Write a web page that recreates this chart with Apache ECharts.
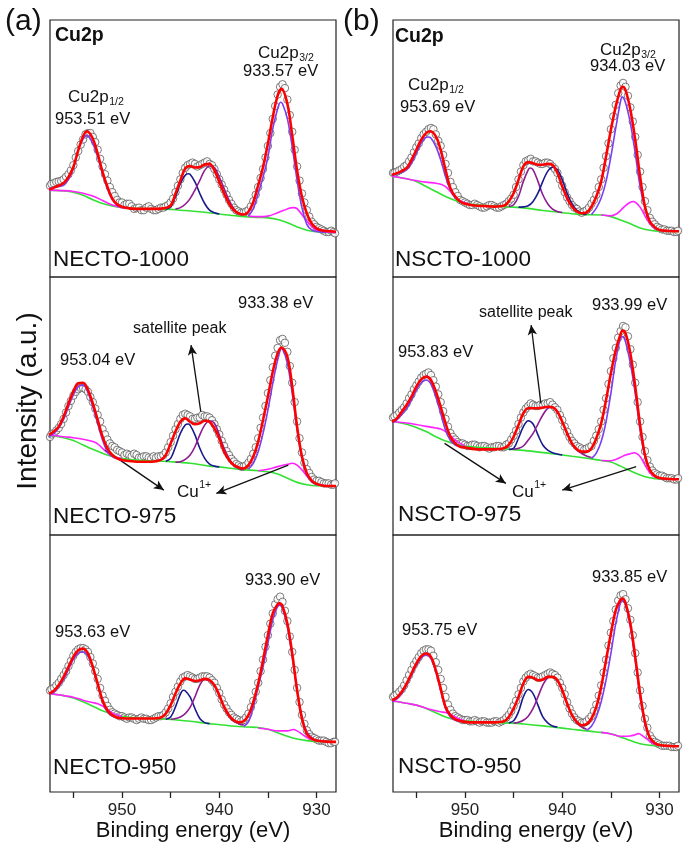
<!DOCTYPE html>
<html><head><meta charset="utf-8">
<script src="https://cdn.jsdelivr.net/npm/echarts@6/dist/echarts.min.js"></script>
<style>html,body{margin:0;padding:0;background:#fff}#c{width:685px;height:849px}</style>
</head><body><div id="c"></div>
<script>
// ---------- DATA (binding energy in eV, intensity in a.u. 0..100 per panel) ----------
const E_GRID = [957.4,957,956.5,956,955.5,955,954.5,954,953.5,953,952.5,952,951.5,951,950.5,950,949.5,949,948.5,948,947.5,947,946.5,946,945.5,945,944.5,944,943.5,943,942.5,942,941.5,941,940.5,940,939.5,939,938.5,938,937.5,937,936.5,936,935.5,935,934.5,934,933.5,933,932.5,932,931.5,931,930.5,930,929.5,929,928.5,928.1];
const E_MID = [957.25,956.75,956.25,955.75,955.25,954.75,954.25,953.75,953.25,952.75,952.25,951.75,951.25,950.75,950.25,949.75,949.25,948.75,948.25,947.75,947.25,946.75,946.25,945.75,945.25,944.75,944.25,943.75,943.25,942.75,942.25,941.75,941.25,940.75,940.25,939.75,939.25,938.75,938.25,937.75,937.25,936.75,936.25,935.75,935.25,934.75,934.25,933.75,933.25,932.75,932.25,931.75,931.25,930.75,930.25,929.75,929.25,928.75,928.25];
const X_TICKS = [955,950,945,940,935,930];
const X_LABELS = [950,940,930];

// Panel (a) NECTO-1000
const aTopData = [35.5,36.5,37.2,38.0,40.0,43.5,49.0,53.5,56.0,54.5,49.5,43.0,37.5,33.0,30.0,29.0,28.5,27.5,26.8,26.0,27.0,26.5,26.0,27.0,27.5,29.0,33.0,38.0,42.5,44.0,44.0,43.5,44.5,44.0,42.0,38.0,34.0,30.0,27.0,25.5,25.0,26.0,29.5,35.0,42.0,51.0,61.5,71.0,75.0,69.0,56.5,43.0,32.5,26.0,21.5,19.5,18.5,17.5,18.0,17.0];
const aTopData2 = [36.2,37.0,37.4,39.0,41.5,46.5,51.5,55.5,56.0,52.5,46.0,40.0,35.0,31.5,29.0,28.0,28.5,26.5,27.0,26.0,27.5,26.0,26.5,27.0,28.0,30.5,35.5,40.5,43.5,44.5,43.0,44.0,45.0,43.5,40.0,36.0,32.0,28.5,26.0,25.0,25.5,27.5,32.0,38.5,46.5,56.0,66.5,74.0,73.5,63.0,49.5,37.5,29.0,23.5,20.5,19.0,18.0,17.5,17.5];
const aTopFit = [[957.5,34.0],[957,34.8],[956,36.6],[955.5,38.9],[955,42.8],[954.5,49.3],[954,54.7],[953.6,56.7],[953,53.8],[952.5,48.0],[952,40.9],[951.5,35.1],[951,30.5],[950.5,28.3],[950,27.3],[949,26.6],[948,26.5],[947,26.5],[946,26.6],[945,27.9],[944.5,32.5],[944,37.6],[943.5,42.2],[943,43.2],[942.5,42.6],[942,42.8],[941.5,43.8],[941,44.0],[940.5,41.5],[940,37.0],[939.5,32.5],[939,28.6],[938.5,26.0],[938,24.7],[937.5,24.3],[937,25.4],[936.5,29.2],[936,35.7],[935.5,42.8],[935,51.9],[934.5,62.2],[934,70.6],[933.6,73.2],[933,67.4],[932.5,55.1],[932,41.5],[931.5,31.2],[931,24.7],[930.5,20.8],[930,18.9],[929.5,18.2],[929,17.9],[928,17.6]];
const aTopGreen = [[957.5,33.8],[956,33.5],[955,33.0],[954,31.8],[953,30.1],[952,28.6],[951,27.6],[950,27.0],[948,26.6],[946,26.5],[944,26.0],[942,25.4],[940,24.5],[938,23.7],[936,23.2],[935,23.0],[934,22.4],[933,21.1],[932,19.5],[931,18.2],[930,17.6],[929,17.3],[928,17.2]];
const aTopMagL = [[957.5,33.8],[956,33.6],[955,33.3],[954,32.6],[953,31.5],[952,29.8],[951,28.0],[950,27.0],[949,26.8]];
const aTopMagR = [[937,23.7],[936,23.5],[935,23.7],[934,25.0],[933,26.5],[932.4,27.0],[932,26.6],[931,21.8],[930,18.2],[929,17.4],[928,17.2]];
const aTopV12 = [[957.5,34.5],[957,34.8],[956,35.7],[955.5,38.0],[955,42.2],[954.5,49.3],[954,53.8],[953.6,55.1],[953,51.9],[952.5,46.7],[952,40.2],[951.5,34.4],[951,30.1],[950.5,27.9],[950,27.0]];
const aTopV32 = [[937,23.7],[936.5,26.6],[936,32.5],[935.5,38.9],[935,46.7],[934.5,57.7],[934,65.5],[933.7,68.0],[933.5,67.4],[933,61.6],[932.5,50.6],[932,37.6],[931.5,27.0],[931,20.5],[930.5,18.3],[930,17.7],[929,17.3]];
const aTopSatL = [[945.5,26.4],[945,27.3],[944.5,31.2],[944,36.4],[943.5,39.6],[943.2,40.2],[943,40.0],[942.5,37.0],[942,32.5],[941.5,28.6],[941,26.0],[940.5,25.0],[940,24.5]];
const aTopSatR = [[944.5,26.5],[944,27.0],[943.5,28.3],[943,30.5],[942.5,33.8],[942,37.6],[941.5,41.5],[941,43.2],[940.5,42.6],[940,38.9],[939.5,34.4],[939,29.9],[938.5,26.6],[938,24.7],[937.5,24.1]];

// Panel (a) NECTO-975
const aMidData = [38.0,39.5,41.5,45.0,50.0,54.0,56.5,57.0,55.5,51.5,46.5,41.0,37.0,34.5,33.0,32.0,31.5,30.5,31.0,30.0,30.5,29.5,30.0,30.5,32.0,36.0,41.0,45.0,47.0,46.0,45.0,45.5,46.0,45.5,43.0,39.0,34.5,31.0,28.5,27.0,26.5,28.0,31.5,37.5,45.5,55.0,65.0,72.5,76.0,71.0,59.0,44.0,32.0,25.5,22.5,21.0,20.5,20.0,19.5,20.0];
const aMidData2 = [39.0,40.5,43.0,47.5,52.0,55.5,57.0,56.5,53.5,49.0,44.0,39.0,35.5,34.0,32.5,31.0,31.0,31.5,30.0,30.5,30.0,30.5,30.5,31.0,34.0,38.5,43.0,46.5,46.5,45.0,45.5,46.5,46.0,44.5,41.0,36.5,32.5,29.5,27.5,26.5,27.0,29.5,34.0,41.5,50.0,60.0,69.5,75.5,74.5,65.5,51.5,37.5,28.0,24.0,21.5,21.0,20.0,20.0,19.5];
const aMidFit = [[957.5,38.8],[957,40.1],[956.5,42.0],[956,45.9],[955.5,51.0],[955,55.6],[954.5,58.8],[954,59.0],[953.5,56.2],[953,51.0],[952.5,44.6],[952,38.1],[951.5,33.6],[951,31.0],[950.5,29.7],[950,29.1],[949,28.6],[948,28.4],[947,28.4],[946,29.1],[945.5,31.0],[945,35.5],[944.5,40.1],[944,43.9],[943.5,45.2],[943,43.9],[942.5,42.9],[942,43.3],[941.5,44.3],[941,43.9],[940.5,41.3],[940,37.5],[939.5,32.3],[939,29.1],[938.5,27.1],[938,26.2],[937.5,25.8],[937,27.1],[936.5,30.4],[936,36.2],[935.5,44.6],[935,53.6],[934.5,63.3],[934,70.4],[933.6,72.7],[933,69.1],[932.5,57.5],[932,42.0],[931.5,30.4],[931,23.9],[930.5,21.1],[930,19.8],[929.5,19.3],[929,19.0],[928,19.0]];
const aMidGreen = [[957.5,38.8],[957,38.5],[956,37.7],[955,36.6],[954,34.9],[953,33.2],[952,31.7],[951,30.4],[950,29.6],[949,29.1],[947,28.8],[945,28.4],[943,27.8],[941,26.7],[940,26.4],[938,25.5],[936,24.9],[935,24.5],[934,23.6],[933,22.0],[932,20.4],[931,19.5],[930,19.1],[928,19.0]];
const aMidMagL = [[957.5,38.8],[957,38.6],[956,38.1],[955,37.7],[954,37.1],[953,36.2],[952.5,35.3],[952,33.6],[951.5,31.9],[951,30.6],[950.5,30.0],[950,29.5]];
const aMidMagR = [[936,24.9],[935,25.5],[934,26.5],[933,27.4],[932.5,27.8],[932,27.1],[931.5,25.2],[931,22.9],[930.5,20.9],[930,19.8],[929.5,19.3],[929,19.0]];
const aMidV12 = [[957.5,38.1],[957,39.4],[956.5,41.5],[956,44.8],[955.5,49.7],[955,54.3],[954.5,57.5],[954,58.1],[953.5,55.2],[953,49.7],[952.5,43.3],[952,36.8],[951.5,32.3],[951,30.4],[950.5,29.6],[950,29.3]];
const aMidV32 = [[937,25.5],[936.5,27.8],[936,32.3],[935.5,39.4],[935,48.4],[934.5,58.8],[934,67.8],[933.6,72.2],[933.5,72.1],[933,66.5],[932.5,54.9],[932,40.7],[931.5,29.7],[931,23.3],[930.5,20.7],[930,19.6],[929,19.1]];
const aMidSatL = [[945.5,28.6],[945,29.7],[944.5,34.2],[944,39.4],[943.5,42.6],[943.2,43.0],[943,42.6],[942.5,38.8],[942,33.6],[941.5,29.7],[941,27.5],[940.5,26.7],[940,26.4]];
const aMidSatR = [[944.5,28.2],[944,28.4],[943.5,29.3],[943,31.0],[942.5,34.2],[942,38.8],[941.5,42.6],[941,44.3],[940.5,43.3],[940,38.8],[939.5,33.6],[939,29.7],[938.5,27.1],[938,25.8],[937.5,25.3]];
const aMidArrows = [[[941.9,47.8],[942.9,73.6]],[[951.7,32.9],[945.7,17.4]],[[932.9,27.1],[940.3,16.1]]];

// Panel (a) NECTO-950
const aBotData = [39.5,40.5,42.5,45.5,49.0,53.0,55.5,56.0,54.5,50.0,44.0,37.5,33.5,31.0,30.0,29.5,28.5,29.0,28.0,29.0,28.5,28.0,29.0,29.5,31.0,34.5,39.0,43.0,45.0,45.0,44.0,44.5,45.0,44.5,42.5,38.5,34.0,31.0,29.0,28.0,28.0,30.5,35.5,42.5,51.5,61.0,69.5,75.0,74.0,66.5,54.5,40.5,30.0,24.0,21.5,20.5,20.0,19.5,19.0,19.5];
const aBotData2 = [40.0,41.5,44.0,47.0,51.0,54.5,56.0,55.5,52.5,47.0,40.5,35.5,32.0,30.5,29.5,29.0,29.0,28.5,28.5,28.5,28.0,28.5,29.5,30.0,32.5,37.0,41.0,44.5,45.5,44.5,44.0,45.0,45.0,43.5,40.5,36.0,32.5,30.0,28.5,27.5,29.0,33.0,39.0,47.0,56.5,65.5,73.0,76.0,70.5,60.5,47.5,35.0,26.5,22.5,21.0,20.0,20.0,19.0,19.5];
const aBotFit = [[957.5,38.3],[957,39.4],[956.5,41.6],[956,44.8],[955.5,48.7],[955,52.6],[954.5,55.2],[954,55.8],[953.5,53.9],[953,48.7],[952.5,42.2],[952,35.7],[951.5,31.8],[951,29.9],[950.5,29.0],[950,28.7],[949,28.6],[948,28.6],[947,28.6],[946,29.0],[945.5,30.5],[945,33.8],[944.5,38.3],[944,42.2],[943.5,44.2],[943,43.8],[942.5,43.2],[942,43.5],[941.5,44.0],[941,43.5],[940.5,41.6],[940,37.7],[939.5,33.1],[939,29.9],[938.5,27.9],[938,27.1],[937.5,27.5],[937,29.9],[936.5,35.1],[936,42.2],[935.5,51.3],[935,61.0],[934.5,69.5],[934,73.1],[933.8,73.4],[933.5,72.3],[933,65.6],[932.5,53.9],[932,39.6],[931.5,28.6],[931,22.7],[930.5,20.8],[930,20.0],[929,19.6],[928,19.5]];
const aBotGreen = [[957.5,38.3],[957,38.1],[956,37.5],[955,36.6],[954,35.1],[953,33.4],[952,31.6],[951,30.3],[950,29.5],[949,29.0],[947,28.6],[945,28.2],[943,27.5],[941,26.6],[939,25.8],[937,25.3],[936,25.1],[935,24.4],[934,23.1],[933,21.7],[932,20.6],[931,20.0],[930,19.7],[928,19.5]];
const aBotMagL = [[957.5,38.3],[957,38.1],[956,37.5],[955,36.9],[954,35.7],[953,34.8],[952.5,34.3],[952,33.4],[951.5,32.1],[951,30.8],[950.5,30.0],[950,29.5]];
const aBotMagR = [[936,24.9],[935,24.4],[934,23.8],[933,23.8],[932.4,24.3],[932,23.8],[931.5,22.5],[931,21.2],[930.5,20.4],[930,19.9],[929,19.6]];
const aBotV12 = [[957.5,38.1],[957,38.8],[956.5,41.0],[956,43.8],[955.5,47.7],[955,51.6],[954.5,53.9],[954,54.5],[953.5,52.9],[953,48.1],[952.5,41.6],[952,35.1],[951.5,31.2],[951,29.6],[950.5,29.1],[950,29.0]];
const aBotV32 = [[937.5,25.6],[937,27.3],[936.5,33.1],[936,40.9],[935.5,48.7],[935,57.8],[934.5,66.9],[934,72.3],[933.8,72.7],[933.5,71.4],[933,64.3],[932.5,52.6],[932,39.6],[931.5,29.2],[931,23.4],[930.5,21.2],[930,20.1],[929,19.6]];
const aBotSatL = [[945.5,28.3],[945,29.2],[944.5,33.1],[944,38.1],[943.7,39.6],[943.5,39.4],[943,37.0],[942.5,32.5],[942,28.6],[941.5,27.0],[941,26.6]];
const aBotSatR = [[945,28.3],[944.5,28.6],[944,29.2],[943.5,30.5],[943,32.9],[942.5,37.0],[942,41.6],[941.5,43.8],[941,43.5],[940.5,41.3],[940,37.4],[939.5,32.9],[939,29.5],[938.5,27.5],[938,26.6],[937.5,26.1]];

// Panel (b) NSCTO-1000
const bTopData = [40.5,41.0,42.0,43.5,46.5,50.5,54.0,56.5,58.0,55.5,51.0,44.0,37.0,33.0,30.0,29.0,28.0,28.5,27.5,27.0,28.0,27.5,27.0,28.0,29.5,32.0,38.0,43.5,45.5,45.0,44.5,44.0,44.5,43.0,40.5,35.5,31.0,28.0,26.5,25.0,26.0,28.5,32.0,38.0,47.0,57.5,67.0,74.5,74.0,66.0,54.5,41.0,29.5,23.0,20.5,19.0,18.5,18.0,17.5,18.0];
const bTopData2 = [40.5,41.5,43.0,45.0,48.5,52.0,55.5,57.5,57.5,53.0,47.5,40.5,35.0,31.5,29.5,28.5,28.0,28.0,27.0,27.5,28.0,27.0,27.5,28.5,30.5,35.0,41.0,45.0,46.0,45.0,44.0,44.5,44.0,42.0,38.0,33.0,29.5,27.0,25.5,25.5,27.0,30.0,35.0,42.5,52.0,62.5,71.5,75.5,70.5,60.5,47.5,35.0,26.0,21.5,19.5,18.5,18.0,18.0,17.5];
const bTopFit = [[957.5,39.8],[957,40.4],[956,42.4],[955.5,45.6],[955,49.5],[954.5,53.4],[954,56.0],[953.6,56.7],[953,54.7],[952.5,49.5],[952,41.7],[951.5,34.6],[951,31.3],[950.5,29.4],[950,28.5],[949,27.8],[948,27.6],[947,27.4],[946,27.7],[945.5,29.4],[945,32.6],[944.5,37.8],[944,43.0],[943.5,44.7],[943,44.3],[942.5,43.7],[942,43.7],[941.5,44.0],[941,43.6],[940.5,40.5],[940,35.2],[939.5,30.7],[939,27.4],[938.5,25.5],[938,24.8],[937.5,25.1],[937,27.4],[936.5,31.3],[936,37.2],[935.5,46.9],[935,57.3],[934.5,66.4],[934,73.2],[933.8,74.0],[933.5,72.7],[933,65.1],[932.5,53.4],[932,39.1],[931.5,27.4],[931,21.6],[930.5,19.4],[930,18.3],[929,17.9],[928,17.8]];
const bTopGreen = [[957.5,39.1],[957,38.9],[956,38.2],[955,37.2],[954,35.2],[953,33.3],[952,31.3],[951,29.8],[950,28.7],[949,28.2],[948,27.8],[946,27.4],[944,26.9],[942,25.9],[940,25.0],[938,24.3],[936,24.1],[935,23.5],[934,22.2],[933,20.7],[932,19.1],[931,18.2],[930,17.8],[928,17.7]];
const bTopMagL = [[957.5,39.1],[957,38.9],[956,38.2],[955,37.5],[954,36.9],[953,36.5],[952.5,36.1],[952,35.2],[951.5,33.3],[951,31.1],[950.5,29.6],[950,28.9],[949.5,28.5]];
const bTopMagR = [[936,24.1],[935,23.8],[934.5,24.4],[934,25.9],[933.5,27.8],[933,29.1],[932.7,29.4],[932.5,29.1],[932,27.2],[931.5,23.8],[931,20.9],[930.5,19.0],[930,18.1],[929,17.7]];
const bTopV12 = [[957.5,39.5],[957,40.1],[956,41.7],[955.5,44.3],[955,48.2],[954.5,52.1],[954,54.4],[953.8,54.5],[953.5,54.1],[953,50.8],[952.5,45.6],[952,39.1],[951.5,33.9],[951,30.7],[950.5,29.4],[950,28.7]];
const bTopV32 = [[937,24.3],[936.5,26.8],[936,30.7],[935.5,37.2],[935,46.9],[934.5,58.0],[934,68.5],[933.85,70.1],[933.5,67.8],[933,59.9],[932.5,48.2],[932,35.2],[931.5,26.8],[931,21.6],[930.5,19.2],[930,18.3],[929,17.8]];
const bTopSatL = [[945.5,27.4],[945,28.1],[944.5,31.3],[944,37.2],[943.5,41.7],[943.3,42.4],[943,41.7],[942.5,37.2],[942,32.0],[941.5,28.5],[941,26.4],[940.5,25.5],[940,25.1]];
const bTopSatR = [[944.5,27.2],[944,27.3],[943.5,27.7],[943,29.4],[942.5,32.6],[942,37.2],[941.5,41.1],[941,42.7],[940.5,41.7],[940,37.8],[939.5,32.6],[939,28.5],[938.5,25.9],[938,24.8],[937.5,24.3]];

// Panel (b) NSCTO-975
const bMidData = [45.5,46.5,48.5,51.0,54.5,58.0,61.0,62.5,62.0,57.5,51.5,45.0,39.5,37.0,35.5,35.0,34.5,35.0,34.0,34.5,33.5,34.0,34.5,34.0,35.5,38.5,43.0,47.5,50.0,50.5,50.0,50.5,51.0,50.5,48.5,44.5,40.0,36.5,34.5,33.5,33.5,34.5,38.5,44.0,53.0,63.5,72.5,79.0,80.5,72.0,59.0,44.0,32.5,26.5,24.0,23.0,22.5,22.0,21.5,22.0];
const bMidData2 = [46.0,47.5,49.5,53.0,56.5,59.5,62.0,63.0,60.0,54.5,48.0,42.0,38.0,36.0,35.5,34.5,35.0,34.5,34.5,34.0,34.0,34.5,34.0,35.0,37.0,40.5,45.5,49.0,51.0,50.0,50.5,51.0,51.5,49.5,46.5,42.0,38.0,35.5,34.0,33.0,34.0,36.5,41.0,48.5,58.5,68.5,76.5,81.0,77.0,66.0,51.5,38.0,29.0,25.0,23.5,23.0,22.0,22.0,21.5];
const bMidFit = [[957.5,43.9],[957,45.2],[956.5,47.8],[956,50.4],[955.5,53.6],[955,57.5],[954.5,60.3],[954,61.4],[953.5,60.1],[953,55.6],[952.5,49.7],[952,43.3],[951.5,38.1],[951,35.5],[950.5,34.2],[950,33.9],[949,33.3],[948,33.2],[947,33.2],[946,33.6],[945.5,34.9],[945,38.1],[944.5,42.6],[944,47.2],[943.5,49.1],[943,49.1],[942.5,49.1],[942,49.4],[941.5,49.7],[941,49.5],[940.5,47.8],[940,43.9],[939.5,39.4],[939,35.5],[938.5,33.2],[938,32.3],[937.5,32.3],[937,33.6],[936.5,37.5],[936,43.3],[935.5,52.3],[935,62.7],[934.5,71.7],[934,77.9],[933.8,79.2],[933.5,78.2],[933,70.4],[932.5,57.5],[932,42.6],[931.5,31.0],[931,25.2],[930.5,23.0],[930,22.1],[929,21.7],[928,21.6]];
const bMidGreen = [[957.5,43.9],[957,43.7],[956,42.9],[955,41.7],[954,40.1],[953,38.1],[952,36.4],[951,35.3],[950,34.5],[949,34.1],[947,33.6],[945,33.1],[943,32.4],[941,31.5],[939,30.5],[937,29.5],[936,28.9],[935,28.3],[934,26.7],[933,24.9],[932,23.3],[931,22.2],[930,21.7],[928,21.6]];
const bMidMagL = [[957.5,43.9],[957,43.8],[956,43.4],[955,42.8],[954,42.1],[953,41.5],[952.5,41.1],[952,40.1],[951.5,38.5],[951,36.8],[950.5,35.5],[950,34.6]];
const bMidMagR = [[936,28.9],[935,28.8],[934.5,29.3],[934,30.1],[933.5,31.0],[933,31.5],[932.6,31.9],[932,30.4],[931.5,27.1],[931,24.2],[930.5,22.6],[930,22.0],[929,21.6]];
const bMidV12 = [[957.5,43.5],[957,44.6],[956.5,46.7],[956,49.1],[955.5,52.3],[955,56.2],[954.5,59.0],[954,60.1],[953.5,58.5],[953,53.6],[952.5,47.2],[952,40.7],[951.5,36.6],[951,34.9],[950.5,34.4],[950,34.2]];
const bMidV32 = [[937,29.6],[936.5,31.7],[936,36.2],[935.5,43.9],[935,54.9],[934.5,67.8],[934,76.6],[933.8,76.9],[933.5,74.9],[933,66.5],[932.5,54.9],[932,40.7],[931.5,30.4],[931,25.2],[930.5,22.9],[930,22.0],[929,21.6]];
const bMidSatL = [[945.5,33.2],[945,33.6],[944.5,37.5],[944,42.0],[943.5,44.3],[943,43.0],[942.5,38.8],[942,34.9],[941.5,32.9],[941,31.9],[940.5,31.4],[940,31.0]];
const bMidSatR = [[945,33.2],[944.5,33.6],[944,34.5],[943.5,36.8],[943,39.4],[942.5,43.0],[942,46.5],[941.5,49.1],[941,49.5],[940.5,47.8],[940,43.9],[939.5,39.4],[939,35.5],[938.5,32.9],[938,31.6],[937.5,30.6],[937,30.0]];
const bMidArrows = [[[942.2,51.0],[943.2,81.4]],[[952.1,35.5],[945.8,20.0]],[[932.4,26.5],[940.0,17.4]]];

// Panel (b) NSCTO-950
const bBotData = [37.0,38.0,40.0,43.5,47.5,51.0,54.0,55.5,55.0,50.5,44.0,37.0,32.0,29.5,28.5,28.0,27.5,28.0,27.0,27.5,27.0,27.5,27.0,28.0,30.0,33.5,38.0,43.0,45.5,45.5,44.5,45.0,46.0,46.0,44.5,40.5,35.0,30.5,28.0,27.0,27.5,29.5,34.0,41.5,51.5,62.0,71.0,76.5,75.0,67.0,54.0,39.5,28.5,22.0,19.5,18.5,18.0,18.0,17.5,18.0];
const bBotData2 = [37.5,39.0,41.5,45.5,49.5,52.5,55.0,55.5,53.0,47.5,40.5,34.0,30.5,29.0,28.0,28.0,27.5,27.5,27.5,27.0,27.0,27.5,27.5,29.0,31.5,35.5,40.5,44.5,46.0,45.0,44.5,45.5,46.5,45.5,42.5,38.0,32.5,29.0,27.5,27.0,28.5,31.5,37.5,46.5,57.0,66.5,74.5,77.0,71.5,61.0,46.5,33.5,25.0,20.5,19.0,18.0,18.0,17.5,17.5];
const bBotFit = [[957.5,35.7],[957,36.8],[956.5,39.0],[956,42.2],[955.5,46.1],[955,50.0],[954.5,52.9],[954,53.9],[953.5,52.6],[953,47.4],[952.5,40.3],[952,33.1],[951.5,29.9],[951,28.3],[950.5,27.7],[950,27.3],[949,27.1],[948,27.1],[947,27.1],[946,27.5],[945.5,29.2],[945,32.5],[944.5,37.0],[944,42.2],[943.5,44.8],[943,44.5],[942.5,43.5],[942,43.8],[941.5,44.8],[941,44.8],[940.5,43.5],[940,39.6],[939.5,34.4],[939,29.9],[938.5,27.3],[938,26.0],[937.5,26.4],[937,28.6],[936.5,33.1],[936,40.9],[935.5,51.3],[935,61.7],[934.5,70.8],[934,74.9],[933.8,75.3],[933.5,73.6],[933,65.6],[932.5,52.6],[932,38.3],[931.5,27.3],[931,21.2],[930.5,19.1],[930,18.3],[929,17.9],[928,17.8]];
const bBotGreen = [[957.5,35.3],[957,35.2],[956,34.5],[955,33.8],[954,32.5],[953,30.8],[952,29.2],[951,28.2],[950,27.7],[949,27.4],[947,27.1],[945,26.8],[943,26.1],[941,25.3],[939,24.4],[937,23.6],[936,23.2],[935,22.7],[934,21.4],[933,20.0],[932,18.8],[931,18.2],[930,17.9],[928,17.8]];
const bBotMagL = [[957.5,35.3],[957,35.2],[956,34.5],[955,33.8],[954,32.6],[953,31.6],[952.5,31.2],[952,30.9],[951.5,30.3],[951,29.2],[950.5,28.2],[950,27.7]];
const bBotMagR = [[936,23.2],[935,22.6],[934,21.7],[933,21.8],[932.5,22.3],[932.2,22.7],[932,22.5],[931.5,21.2],[931,19.7],[930.5,18.6],[930,18.1],[929,17.8]];
const bBotV12 = [[957.5,35.3],[957,36.2],[956.5,38.5],[956,41.6],[955.5,45.5],[955,49.4],[954.5,52.2],[954,53.2],[953.5,51.9],[953,46.8],[952.5,39.6],[952,32.5],[951.5,29.2],[951,27.9],[950.5,27.5],[950,27.4]];
const bBotV32 = [[937.5,24.0],[937,25.6],[936.5,29.2],[936,35.1],[935.5,43.5],[935,53.9],[934.5,65.6],[934,74.0],[933.9,74.7],[933.5,72.7],[933,64.3],[932.5,51.3],[932,37.0],[931.5,26.6],[931,20.8],[930.5,18.8],[930,18.2],[929,17.8]];
const bBotSatL = [[945.5,26.9],[945,27.7],[944.5,31.2],[944,37.0],[943.5,39.9],[943,38.3],[942.5,33.8],[942,29.2],[941.5,26.9],[941,25.7],[940.5,25.3]];
const bBotSatR = [[945,26.8],[944.5,27.1],[944,27.9],[943.5,29.5],[943,32.5],[942.5,37.0],[942,41.6],[941.5,44.4],[941,44.8],[940.5,43.5],[940,39.6],[939.5,34.4],[939,29.9],[938.5,26.9],[938,25.3],[937.5,24.4]];

// ---------- CHART ----------
const FONT = '"Liberation Sans", Arial, Helvetica, sans-serif';
const COL = {green:'#33e133', magenta:'#ff22ff', navy:'#1a1a8e', purple:'#8e1c91', violet:'#7b3ff2', red:'#ff0000', dot:'#4a4a4a', text:'#111'};

const GRIDS = [
  {left:50, top:20, width:286, height:257},
  {left:50, top:277, width:286, height:258},
  {left:50, top:535, width:286, height:257},
  {left:393, top:20, width:286, height:257},
  {left:393, top:277, width:286, height:258},
  {left:393, top:535, width:286, height:257}
];
const BOTTOM = [false,false,true,false,false,true];

const PANELS = [
  {data:aTopData, data2:aTopData2, fit:aTopFit, green:aTopGreen, magL:aTopMagL, magR:aTopMagR, v12:aTopV12, v32:aTopV32, satL:aTopSatL, satR:aTopSatR, cL:COL.navy, cR:COL.purple},
  {data:aMidData, data2:aMidData2, fit:aMidFit, green:aMidGreen, magL:aMidMagL, magR:aMidMagR, v12:aMidV12, v32:aMidV32, satL:aMidSatL, satR:aMidSatR, cL:COL.navy, cR:COL.purple, arrows:aMidArrows},
  {data:aBotData, data2:aBotData2, fit:aBotFit, green:aBotGreen, magL:aBotMagL, magR:aBotMagR, v12:aBotV12, v32:aBotV32, satL:aBotSatL, satR:aBotSatR, cL:COL.navy, cR:COL.purple},
  {data:bTopData, data2:bTopData2, fit:bTopFit, green:bTopGreen, magL:bTopMagL, magR:bTopMagR, v12:bTopV12, v32:bTopV32, satL:bTopSatL, satR:bTopSatR, cL:COL.purple, cR:COL.navy},
  {data:bMidData, data2:bMidData2, fit:bMidFit, green:bMidGreen, magL:bMidMagL, magR:bMidMagR, v12:bMidV12, v32:bMidV32, satL:bMidSatL, satR:bMidSatR, cL:COL.navy, cR:COL.purple, arrows:bMidArrows},
  {data:bBotData, data2:bBotData2, fit:bBotFit, green:bBotGreen, magL:bBotMagL, magR:bBotMagR, v12:bBotV12, v32:bBotV32, satL:bBotSatL, satR:bBotSatR, cL:COL.navy, cR:COL.purple}
];

const grid = GRIDS.map(g => Object.assign({show:true, borderColor:'#222', borderWidth:1.2, backgroundColor:'rgba(0,0,0,0)', containLabel:false}, g));

const xAxis = GRIDS.map((g,i) => ({
  type:'value', gridIndex:i, inverse:true, min:928, max:957.4,
  axisLine:{show:false}, splitLine:{show:false},
  axisTick: BOTTOM[i] ? {show:true, inside:false, length:6, customValues:X_TICKS, lineStyle:{color:'#222', width:1.3}} : {show:false},
  axisLabel: BOTTOM[i] ? {show:true, customValues:X_LABELS, fontSize:17, color:'#222', fontFamily:FONT, margin:10} : {show:false}
}));
const yAxis = GRIDS.map((g,i) => ({type:'value', gridIndex:i, min:0, max:100, show:false}));

function lineS(i, data, color, width, z) {
  return {type:'line', xAxisIndex:i, yAxisIndex:i, data:data, smooth:0.35, symbol:'none', showSymbol:false,
    lineStyle:{color:color, width:width}, z:z, silent:true, animation:false, clip:true};
}

const series = [];
PANELS.forEach((p,i) => {
  const pts = E_GRID.map((e,k)=>[e,p.data[k]]).concat(E_MID.map((e,k)=>[e,p.data2[k]]));
  pts.sort((u,v)=>v[0]-u[0]);
  series.push({type:'scatter', xAxisIndex:i, yAxisIndex:i, data:pts,
    symbol:'circle', symbolSize:7.5, itemStyle:{color:'#ffffff', borderColor:COL.dot, borderWidth:0.9},
    z:1, silent:true, animation:false});
  const g = lineS(i, p.green, COL.green, 1.6, 2);
  if (p.arrows) {
    g.markLine = {silent:true, animation:false, symbol:['none','arrow'], symbolSize:[7,10],
      label:{show:false}, emphasis:{disabled:true},
      lineStyle:{color:'#111', width:1.3, type:'solid'},
      data:p.arrows.map(a => [{coord:a[0]},{coord:a[1]}])};
  }
  series.push(g);
  series.push(lineS(i, p.magL, COL.magenta, 1.6, 3));
  series.push(lineS(i, p.magR, COL.magenta, 1.6, 3));
  series.push(lineS(i, p.satL, p.cL, 1.6, 4));
  series.push(lineS(i, p.satR, p.cR, 1.6, 4));
  series.push(lineS(i, p.v12, COL.violet, 1.6, 5));
  series.push(lineS(i, p.v32, COL.violet, 1.6, 5));
  series.push(lineS(i, p.fit, COL.red, 2.6, 6));
});

function txt(x, y, text, size, opt) {
  opt = opt || {};
  return {type:'text', x:x, y:y, rotation:opt.rotation||0, z:100, silent:true,
    style:{text:text, fontSize:size, fontFamily:FONT, fontWeight:opt.bold?'bold':'normal', fill:COL.text,
      align:opt.align||'left', textAlign:opt.align||'left', verticalAlign:'middle', textVerticalAlign:'middle'}};
}
function sub(x, y, base, s, size) {
  return [txt(x, y, base, size), txt(x + size*2.39 + 0.5, y + 5, s, size*0.62)];
}
function sup(x, y, base, s, size) {
  return [txt(x, y, base, size), txt(x + size*1.278 + 0.5, y - 7, s, size*0.62)];
}

const graphic = [
  txt(5, 22, '(a)', 30), txt(343, 22, '(b)', 30),
  txt(28, 401, 'Intensity (a.u.)', 28, {rotation:Math.PI/2, align:'center'}),
  txt(193, 831, 'Binding energy (eV)', 22, {align:'center'}),
  txt(536, 831, 'Binding energy (eV)', 22, {align:'center'}),
  // (a) top
  txt(55, 36, 'Cu2p', 19.5, {bold:true}),
  ...sub(258, 53, 'Cu2p', '3/2', 17),
  txt(243, 71, '933.57 eV', 16.5),
  ...sub(68, 97, 'Cu2p', '1/2', 17),
  txt(55, 119, '953.51 eV', 16.5),
  txt(53, 260, 'NECTO-1000', 22.5),
  // (a) mid
  txt(238, 303, '933.38 eV', 16.5),
  txt(133, 329, 'satellite peak', 16),
  txt(60, 360, '953.04 eV', 16.5),
  ...sup(177, 492, 'Cu', '1+', 17),
  txt(53, 517, 'NECTO-975', 22.5),
  // (a) bottom
  txt(245, 580, '933.90 eV', 16.5),
  txt(55, 632, '953.63 eV', 16.5),
  txt(53, 768, 'NECTO-950', 22.5),
  // (b) top
  txt(395, 37, 'Cu2p', 19.5, {bold:true}),
  ...sub(600, 50, 'Cu2p', '3/2', 17),
  txt(590, 66, '934.03 eV', 16.5),
  ...sub(408, 85, 'Cu2p', '1/2', 17),
  txt(400, 107, '953.69 eV', 16.5),
  txt(395, 260, 'NSCTO-1000', 22.5),
  // (b) mid
  txt(592, 305, '933.99 eV', 16.5),
  txt(479, 313, 'satellite peak', 16),
  txt(398, 352, '953.83 eV', 16.5),
  ...sup(512, 492, 'Cu', '1+', 17),
  txt(398, 515, 'NSCTO-975', 22.5),
  // (b) bottom
  txt(592, 577, '933.85 eV', 16.5),
  txt(402, 630, '953.75 eV', 16.5),
  txt(398, 767, 'NSCTO-950', 22.5)
];

const chart = echarts.init(document.getElementById('c'), null, {renderer:'canvas'});
chart.setOption({backgroundColor:'#fff', animation:false, grid:grid, xAxis:xAxis, yAxis:yAxis, series:series, graphic:graphic});
</script></body></html>
